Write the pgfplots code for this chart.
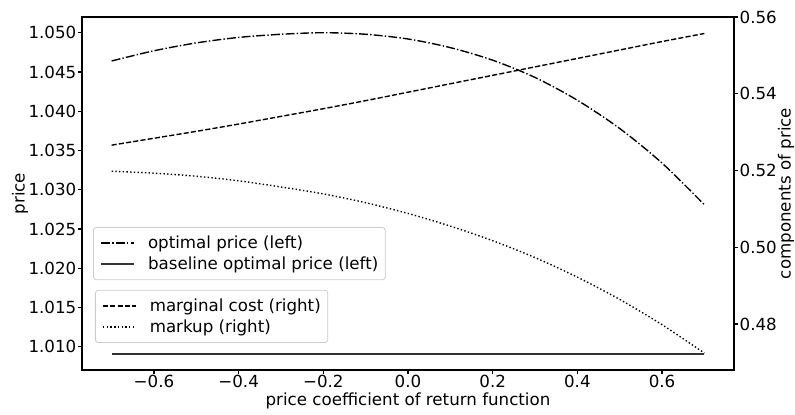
\documentclass[border=0pt]{standalone}
\usepackage{fontspec}
\setmainfont{DejaVu Sans}
\usepackage{pgfplots}
\pgfplotsset{compat=1.18}
\newcommand{\fs}{\fontsize{16.67bp}{20bp}\selectfont}
\begin{document}
\begin{tikzpicture}
\pgfplotsset{
 common/.style={
  scale only axis, width=652bp, height=353bp,
  xmin=-0.77, xmax=0.77,
  axis line style={line width=1.1bp},
  tick style={line width=1.1bp, black},
  major tick length=3.5bp,
  tick align=outside,
  tick label style={font=\fs, inner sep=2bp},
  legend style={font=\fs, draw=black!20, rounded corners=3bp, fill=white, line width=0.8bp, inner xsep=7bp, inner ysep=8.5bp, row sep=7bp, nodes={inner sep=0pt}},
  legend cell align=left,
  legend image code/.code={\draw[##1] (0bp,0bp) -- (33bp,0bp); \path (46bp,0bp);},
 },
}
\begin{axis}[common, name=ax,
  ymin=1.00705, ymax=1.0520,
  tick pos=left,
  ytick={1.010,1.015,1.020,1.025,1.030,1.035,1.040,1.045,1.050},
  yticklabels={1.010,1.015,1.020,1.025,1.030,1.035,1.040,1.045,1.050},
  xtick={-0.6,-0.4,-0.2,0,0.2,0.4,0.6},
  xticklabels={−0.6,−0.4,−0.2,0.0,0.2,0.4,0.6},
  xticklabel style={yshift=1bp},
  xlabel={price coefficient of return function},
  ylabel={price},
  every axis x label/.style={at={(rel axis cs:0.5,0)}, anchor=center, yshift=-30.5bp, font=\fs},
  every axis y label/.style={at={(rel axis cs:0,0.5)}, xshift=-62bp, rotate=90, anchor=center, font=\fs},
  legend style={at={(0.0169,0.405)}, anchor=north west},
]
\addplot[black, line width=1.39bp, dash pattern=on 8.9bp off 2.2bp on 1.4bp off 2.2bp, smooth] table {
x y
-0.7 1.0464
-0.6 1.0477
-0.5 1.0487
-0.4 1.0494
-0.3 1.0498
-0.2 1.0500
-0.1 1.0498
0.0 1.0492
0.1 1.0481
0.2 1.0465
0.3 1.0443
0.4 1.0414
0.5 1.0378
0.6 1.0334
0.7 1.0281
};
\addlegendentry{optimal price (left)}
\addplot[black!80, line width=1.6bp] table {
x y
-0.7 1.0091
0.7 1.0091
};
\addlegendentry{baseline optimal price (left)}
\end{axis}
\begin{axis}[common,
  ymin=0.468, ymax=0.560,
  axis y line*=right, axis x line=none,
  ytick={0.48,0.50,0.52,0.54,0.56},
  yticklabels={0.48,0.50,0.52,0.54,0.56},
  ylabel={components of price},
  every axis y label/.style={at={(rel axis cs:1,0.5)}, xshift=52bp, rotate=90, anchor=center, font=\fs},
  legend style={at={(0.0199,0.227)}, anchor=north west},
]
\addplot[black, line width=1.39bp, dash pattern=on 5.1bp off 2.2bp, smooth] table {
x y
-0.7 0.5266
-0.6 0.5284
-0.5 0.5302
-0.4 0.5321
-0.3 0.5341
-0.2 0.5361
-0.1 0.5382
0.0 0.5404
0.1 0.5426
0.2 0.5448
0.3 0.5470
0.4 0.5492
0.5 0.5514
0.6 0.5536
0.7 0.5557
};
\addlegendentry{marginal cost (right)}
\addplot[black, line width=1.39bp, dash pattern=on 1.4bp off 2.3bp, smooth] table {
x y
-0.7 0.5198
-0.6 0.5193
-0.5 0.5185
-0.4 0.5173
-0.3 0.5157
-0.2 0.5139
-0.1 0.5116
0.0 0.5088
0.1 0.5055
0.2 0.5017
0.3 0.4973
0.4 0.4922
0.5 0.4864
0.6 0.4798
0.7 0.4724
};
\addlegendentry{markup (right)}
\end{axis}
\pgfresetboundingbox
\path[use as bounding box] ([xshift=-82bp,yshift=-44bp]ax.south west) rectangle ([xshift=61bp,yshift=17bp]ax.north east);
\end{tikzpicture}
\end{document}
